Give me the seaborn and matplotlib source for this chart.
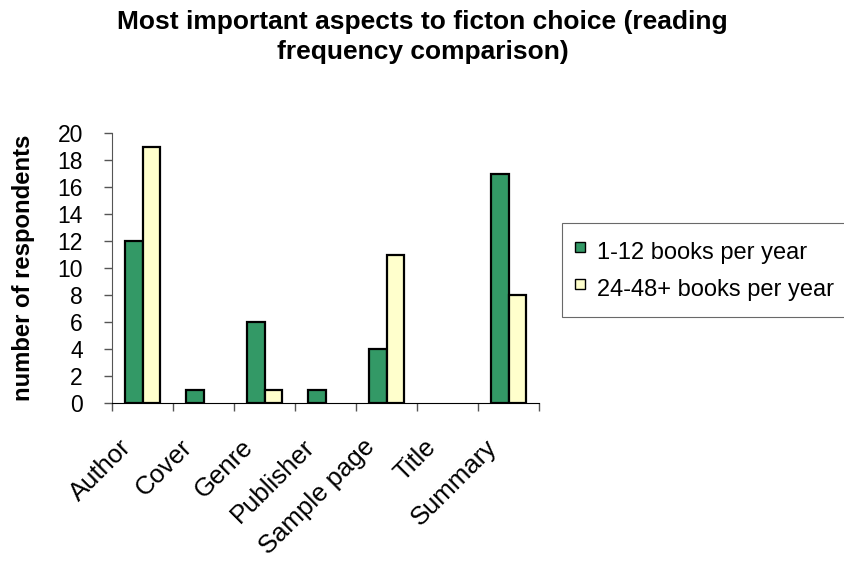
import matplotlib
matplotlib.use("Agg")
import matplotlib.pyplot as plt
import matplotlib.transforms as mtransforms
import seaborn as sns
import pandas as pd
import numpy as np
from matplotlib.lines import Line2D

categories = ["Author", "Cover", "Genre", "Publisher", "Sample page", "Title", "Summary"]
series_names = ["1-12 books per year", "24-48+ books per year"]
low_freq = [12, 1, 6, 1, 4, 0, 17]
high_freq = [19, 0, 1, 0, 11, 0, 8]
colors = ["#339966", "#FFFFCC"]

df = pd.DataFrame({
    "aspect": categories * 2,
    "group": [series_names[0]] * len(categories) + [series_names[1]] * len(categories),
    "count": low_freq + high_freq,
})

sns.set_style("white")
plt.rcParams["font.family"] = ["Liberation Sans", "DejaVu Sans"]
plt.rcParams["text.color"] = "black"
plt.rcParams["axes.labelcolor"] = "black"
plt.rcParams["xtick.color"] = "black"
plt.rcParams["ytick.color"] = "black"

fig = plt.figure(figsize=(8.45, 5.66), dpi=100)
ax = fig.add_axes([112 / 845, 1 - 403 / 566, (539 - 112) / 845, (403 - 133) / 566])

sns.barplot(data=df, x="aspect", y="count", hue="group", order=categories,
            hue_order=series_names, palette=colors, saturation=1, width=0.56,
            edgecolor="black", linewidth=1.6, ax=ax, legend=False, errorbar=None)

# hide empty (zero-height) bars so no outline is drawn on the axis
for p in ax.patches:
    if p.get_height() == 0:
        p.set_visible(False)

ax.set_xlim(-0.5, len(categories) - 0.5)
ax.set_ylim(0, 20)
ax.set_yticks(np.arange(0, 21, 2))
ax.tick_params(axis="y", labelsize=16.5, length=6, width=1, color="#555555",
               direction="out", left=True, pad=15)
ax.set_xticks(range(len(categories)))
ax.set_xticklabels(categories, rotation=45, ha="right", va="center",
                   rotation_mode="anchor", fontsize=18.5)
ax.tick_params(axis="x", which="major", length=0, pad=29)
offset = mtransforms.ScaledTranslation(-15 / 100, 0, fig.dpi_scale_trans)
for lbl in ax.get_xticklabels():
    lbl.set_transform(lbl.get_transform() + offset)
ax.set_xticks(np.arange(-0.5, len(categories), 1), minor=True)
ax.tick_params(axis="x", which="minor", length=6, width=1, color="#555555",
               direction="out", bottom=True)

for s in ["top", "right"]:
    ax.spines[s].set_visible(False)
ax.spines["left"].set_color("#555555")
ax.spines["bottom"].set_color("black")

ax.set_xlabel("")
ax.set_ylabel("number of respondents", fontsize=17.2, fontweight="bold", labelpad=16)

handles = [Line2D([], [], linestyle="none", marker="s", markersize=7.5,
                  markerfacecolor=c, markeredgecolor="black", markeredgewidth=1)
           for c in colors]
leg = fig.legend(handles, series_names, loc="upper left",
                 bbox_to_anchor=(562 / 845, 1 - 223 / 566),
                 fontsize=17, frameon=True, fancybox=False, edgecolor="#444444",
                 handlelength=0.55, handleheight=1.75, handletextpad=0.45,
                 labelspacing=0.2, borderpad=0.5, borderaxespad=0)
leg.get_frame().set_linewidth(0.8)

fig.text(0.5, 1 - 37 / 566,
         "Most important aspects to ficton choice (reading\nfrequency comparison)",
         ha="center", va="center", fontsize=19, fontweight="bold", linespacing=1.28)

fig.savefig("out.png", dpi=100)
